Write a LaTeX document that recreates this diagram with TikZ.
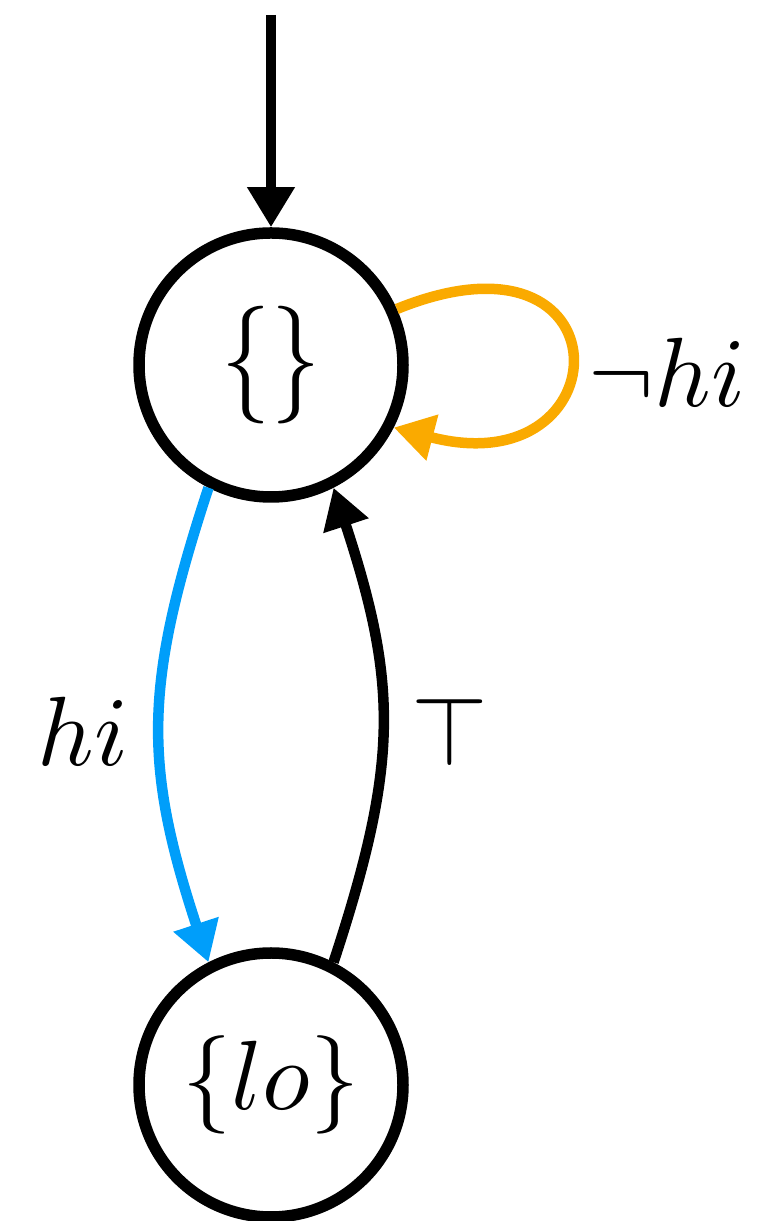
\documentclass[tikz,border=0pt]{standalone}
\usepackage{amsmath,amssymb}
\usepackage{xcolor}
\usepackage{tikz}
\usetikzlibrary{arrows.meta}
\definecolor{notyellow}{RGB}{250,170,0}
\definecolor{hiblue}{RGB}{0,158,250}
\newcommand{\stxt}[1]{\scalebox{5.6}{$#1$}}

\begin{document}
\begin{tikzpicture}[
    stnode/.style={circle, draw, line width=0.23cm, minimum size=5.28cm, inner sep=0pt},
    trans/.style={line width=0.21cm, -{Triangle[length=0.8cm,width=0.9cm]}}]
  \useasboundingbox (0,0) rectangle (15.18,24.42);
  % states
  \node[stnode] (s0) at (5.42,17.12) {\scalebox{5.6}[6.7]{$\{\}$}};
  \node[stnode] (s1) at (5.42,2.72) {\stxt{\{lo\}}};
  % initial arrow into s0
  \coordinate (init) at (5.42,24.12);
  \draw[trans] (init) -- (s0);
  % self loop on s0
  \draw[trans, notyellow] (s0.24) .. controls +(4.68,1.90) and +(4.6,-1.2) .. (s0.-27);
  % s0 -> s1 and back
  \draw[trans, hiblue] (s0.243) .. controls +(-1.3,-3.96) and +(-1.3,3.96) .. (s1.117);
  \draw[trans] (s1.63) .. controls +(1.3,3.96) and +(1.3,-3.96) .. (s0.297);
  % labels
  \node (lneg) at (13.34,16.98) {\stxt{\neg hi}};
  \node (lhi) at (1.66,9.80) {\stxt{hi}};
  \node (ltop) at (9.0,9.80) {\stxt{\top}};
\end{tikzpicture}
\end{document}
